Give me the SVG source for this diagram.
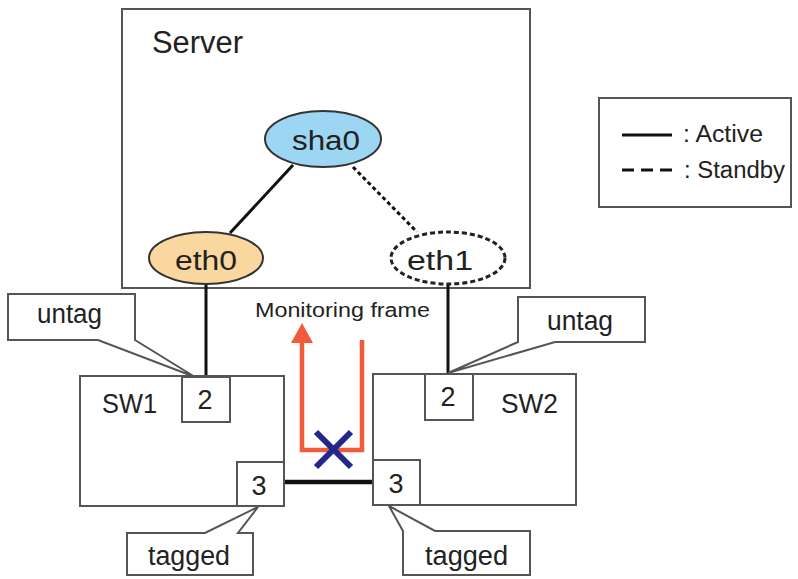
<svg xmlns="http://www.w3.org/2000/svg" width="798" height="579" viewBox="0 0 798 579">
<style>
text{font-family:"Liberation Sans",Arial,sans-serif;fill:#222}
.box{fill:#fff;stroke:#555;stroke-width:2}
.t26{font-size:27px}
.lnk{stroke:#111;stroke-width:3;fill:none}
</style>
<rect width="798" height="579" fill="#fff"/>
<g id="server">
<rect class="box" x="122" y="9" width="408" height="279"/>
<text x="152" y="53" font-size="31" textLength="91" lengthAdjust="spacingAndGlyphs">Server</text>
</g>
<g id="connectors">
<line class="lnk" x1="293" y1="165" x2="230" y2="233"/>
<line class="lnk" x1="353" y1="167" x2="417" y2="232" stroke-dasharray="4 3"/>
<line class="lnk" x1="206" y1="284" x2="206" y2="377"/>
<line class="lnk" x1="448" y1="284" x2="448" y2="374"/>
<line x1="284" y1="482" x2="373" y2="482" stroke="#111" stroke-width="4.5"/>
</g>
<g id="sha0">
<ellipse cx="323" cy="139" rx="58" ry="28" fill="#9DD6F2" stroke="#333" stroke-width="2"/>
<text x="292" y="150" class="t26" textLength="68" lengthAdjust="spacingAndGlyphs">sha0</text>
</g>
<g id="eth0">
<ellipse cx="206" cy="258" rx="57" ry="26" fill="#FAD79E" stroke="#333" stroke-width="2"/>
<text x="175" y="270" class="t26" textLength="62" lengthAdjust="spacingAndGlyphs">eth0</text>
</g>
<g id="eth1">
<ellipse cx="448" cy="258" rx="57" ry="26" fill="#fff" stroke="#222" stroke-width="3" stroke-dasharray="5 3"/>
<text x="407" y="270" class="t26" textLength="66" lengthAdjust="spacingAndGlyphs">eth1</text>
</g>
<g id="sw1">
<rect class="box" x="80" y="376" width="204" height="130"/>
<text x="102" y="413" class="t26" textLength="55" lengthAdjust="spacingAndGlyphs">SW1</text>
<rect class="box" x="182" y="377" width="48" height="45"/>
<text x="205" y="409" class="t26" text-anchor="middle">2</text>
<rect class="box" x="237" y="462" width="47" height="44"/>
<text x="259" y="495" class="t26" text-anchor="middle">3</text>
</g>
<g id="sw2">
<rect class="box" x="373" y="374" width="203" height="131"/>
<text x="501" y="413" class="t26" textLength="57" lengthAdjust="spacingAndGlyphs">SW2</text>
<rect class="box" x="425" y="374" width="48" height="46"/>
<text x="448" y="406" class="t26" text-anchor="middle">2</text>
<rect class="box" x="373" y="460" width="47" height="45"/>
<text x="396" y="493" class="t26" text-anchor="middle">3</text>
</g>
<g id="untag-left">
<path class="box" d="M8,294 H135 V340 L195,377 L98,340 H8 Z"/>
<text x="37" y="323" class="t26" textLength="65" lengthAdjust="spacingAndGlyphs">untag</text>
</g>
<g id="untag-right">
<path class="box" d="M518,297 H645 V342 H555 L448,373 L518,342 Z"/>
<text x="547" y="330" class="t26" textLength="66" lengthAdjust="spacingAndGlyphs">untag</text>
</g>
<g id="tagged-left">
<path class="box" d="M127,533 H205 L258,507 L238,533 H253 V575 H127 Z"/>
<text x="148" y="565" class="t26" textLength="82" lengthAdjust="spacingAndGlyphs">tagged</text>
</g>
<g id="tagged-right">
<path class="box" d="M389,506 L435,531 H530 V575 H403 V531 Z"/>
<text x="425" y="565" class="t26" textLength="83" lengthAdjust="spacingAndGlyphs">tagged</text>
</g>
<g id="monitoring">
<text x="255" y="317" font-size="20" textLength="175" lengthAdjust="spacingAndGlyphs">Monitoring frame</text>
<path d="M302,342 V450 H362 V340" fill="none" stroke="#F15A3A" stroke-width="4.5"/>
<polygon points="302,323 291,343 313,343" fill="#F15A3A"/>
<path d="M316,432 L351,467 M351,432 L316,467" stroke="#23268A" stroke-width="6"/>
</g>
<g id="legend">
<rect class="box" x="599" y="98" width="192" height="109"/>
<line x1="622" y1="135" x2="672" y2="135" stroke="#111" stroke-width="3"/>
<line x1="622" y1="170" x2="672" y2="170" stroke="#111" stroke-width="3" stroke-dasharray="12 7"/>
<text x="683" y="142" font-size="23" textLength="80" lengthAdjust="spacingAndGlyphs">: Active</text>
<text x="684" y="178" font-size="23" textLength="101" lengthAdjust="spacingAndGlyphs">: Standby</text>
</g>
</svg>
